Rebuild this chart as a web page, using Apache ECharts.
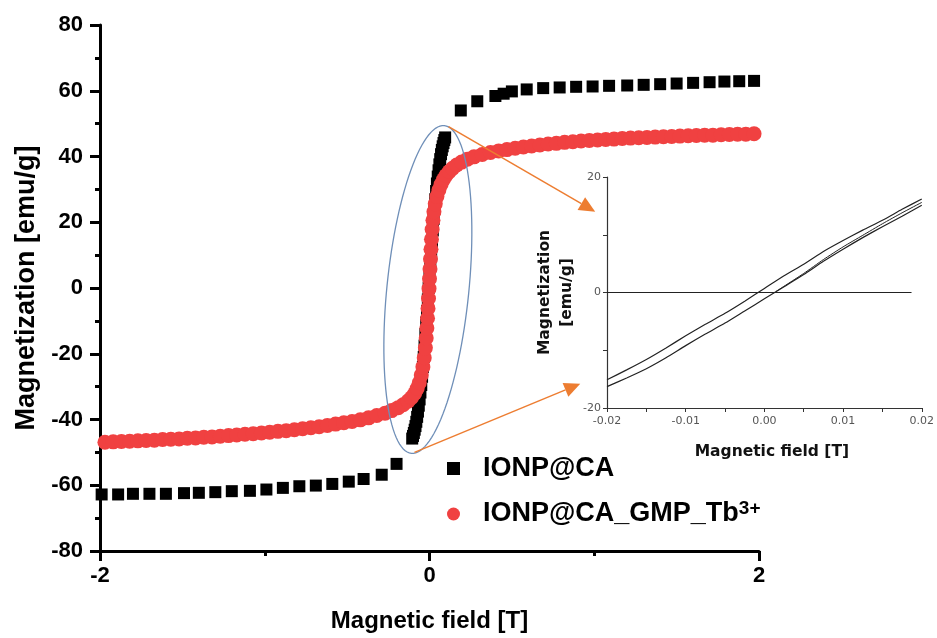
<!DOCTYPE html>
<html><head><meta charset="utf-8">
<script src="https://cdn.jsdelivr.net/npm/echarts@6/dist/echarts.min.js"></script>
<style>html,body{margin:0;padding:0;background:#fff}#c{width:937px;height:638px}</style>
</head><body><div id="c"></div><script>
// ---- data: [field (T), magnetization (emu/g)] ----
const seriesNames = ['IONP@CA', 'IONP@CA_GMP_Tb3+'];

const ionpCA = [
  [-1.99,-62.8],[-1.89,-62.8],[-1.80,-62.6],[-1.70,-62.6],[-1.60,-62.6],[-1.49,-62.4],[-1.40,-62.3],[-1.30,-62.1],
  [-1.20,-61.8],[-1.09,-61.7],[-0.99,-61.3],[-0.89,-60.8],[-0.79,-60.3],[-0.69,-60.1],[-0.59,-59.6],[-0.49,-58.9],
  [-0.40,-58.1],[-0.29,-56.8],[-0.20,-53.5],
  [-0.105,-45.8],[-0.100,-45.0],[-0.095,-44.1],[-0.090,-43.1],[-0.085,-42.0],[-0.080,-40.7],[-0.075,-39.2],[-0.070,-37.6],
  [-0.065,-35.8],[-0.060,-33.9],[-0.055,-31.8],[-0.050,-29.5],[-0.045,-27.0],[-0.040,-24.0],[-0.035,-21.0],[-0.030,-17.5],
  [-0.025,-14.0],[-0.020,-10.5],[-0.015,-7.0],[-0.010,-3.5],[-0.005,0.0],[0.000,3.5],[0.005,7.0],[0.010,10.5],
  [0.015,14.0],[0.020,17.5],[0.025,21.0],[0.030,24.0],[0.035,27.0],[0.040,29.5],[0.045,31.8],[0.050,33.9],
  [0.055,35.8],[0.060,37.6],[0.065,39.2],[0.070,40.7],[0.075,42.0],[0.080,43.1],[0.085,44.1],[0.090,45.0],[0.095,45.8],
  [0.19,54.0],[0.29,56.8],[0.40,58.4],[0.45,59.1],[0.50,59.8],[0.59,60.4],[0.69,60.8],[0.79,61.0],[0.89,61.2],
  [0.99,61.3],[1.09,61.5],[1.20,61.6],[1.30,61.8],[1.40,62.0],[1.50,62.2],[1.60,62.4],[1.70,62.6],[1.79,62.8],
  [1.88,62.9],[1.97,63.0]
];

const ionpTb = [
  [-1.97,-46.9],[-1.92,-46.8],[-1.87,-46.7],[-1.82,-46.6],[-1.77,-46.5],[-1.72,-46.4],[-1.67,-46.3],[-1.62,-46.1],
  [-1.57,-46.0],[-1.52,-45.9],[-1.47,-45.7],[-1.42,-45.6],[-1.37,-45.4],[-1.32,-45.3],[-1.27,-45.1],[-1.22,-44.9],
  [-1.17,-44.7],[-1.12,-44.5],[-1.07,-44.3],[-1.02,-44.1],[-0.97,-43.9],[-0.92,-43.6],[-0.87,-43.4],[-0.82,-43.1],
  [-0.77,-42.8],[-0.72,-42.5],[-0.67,-42.2],[-0.62,-41.8],[-0.57,-41.4],[-0.52,-41.0],[-0.47,-40.6],[-0.42,-40.1],
  [-0.37,-39.5],[-0.32,-38.8],[-0.27,-38.1],[-0.23,-37.3],[-0.19,-36.4],[-0.16,-35.5],[-0.13,-34.4],[-0.11,-33.4],
  [-0.09,-32.1],[-0.075,-30.6],[-0.062,-28.8],[-0.050,-26.5],[-0.040,-24.0],[-0.032,-21.2],[-0.025,-18.2],[-0.020,-15.2],
  [-0.016,-12.2],[-0.012,-9.2],[-0.009,-6.2],[-0.006,-3.2],[-0.003,-0.2],[0.000,2.8],[0.003,5.8],[0.006,8.8],
  [0.009,11.8],[0.012,14.8],[0.016,17.8],[0.021,20.6],[0.027,23.2],[0.035,25.6],[0.045,27.8],[0.057,29.8],
  [0.070,31.5],[0.085,33.0],[0.100,34.2],[0.120,35.4],[0.140,36.4],[0.165,37.4],[0.195,38.3],[0.23,39.2],
  [0.27,39.9],[0.32,40.6],[0.37,41.2],[0.42,41.7],[0.47,42.1],[0.52,42.5],[0.57,42.9],[0.62,43.2],
  [0.67,43.5],[0.72,43.8],[0.77,44.0],[0.82,44.3],[0.87,44.5],[0.92,44.7],[0.97,44.9],[1.02,45.0],
  [1.07,45.2],[1.12,45.3],[1.17,45.5],[1.22,45.6],[1.27,45.7],[1.32,45.8],[1.37,45.9],[1.42,46.0],
  [1.47,46.1],[1.52,46.2],[1.57,46.3],[1.62,46.4],[1.67,46.5],[1.72,46.5],[1.77,46.6],[1.82,46.7],
  [1.87,46.8],[1.92,46.8],[1.97,46.9]
];

// inset (zoom of the low-field loop)
const insetUpper = [
  [-0.020,-15.1],[-0.0175,-13.4],[-0.015,-11.6],[-0.0125,-9.6],[-0.010,-7.5],[-0.0075,-5.5],[-0.005,-3.6],[-0.0025,-1.5],
  [0.000,0.7],[0.0025,2.9],[0.005,4.9],[0.0075,7.1],[0.010,9.0],[0.0125,10.8],[0.015,12.5],[0.0175,14.4],[0.020,16.2]
];
const insetLower = [
  [-0.020,-16.3],[-0.0175,-14.8],[-0.015,-13.2],[-0.0125,-11.3],[-0.010,-9.2],[-0.0075,-7.2],[-0.005,-5.3],[-0.0025,-3.2],
  [0.000,-1.1],[0.0025,1.0],[0.005,3.1],[0.0075,5.4],[0.010,7.5],[0.0125,9.5],[0.015,11.4],[0.0175,13.2],[0.020,15.1]
];
const insetInitial = [
  [0.0015,0.2],[0.005,3.3],[0.0075,5.7],[0.010,7.9],[0.0125,9.9],[0.015,11.9],[0.0175,13.8],[0.020,15.6]
];
const insetZero = [[-0.020,0],[0.0187,0]];

// annotation anchors (data coords): ellipse ends on main plot, arrow start (main) -> arrow tip (inset)
const ellipseTop = [0.09, 49.4], ellipseBottom = [-0.11, -50.3];
const arrowStarts = [[0.1155, 49.1], [-0.091, -50.0]];
const arrowTips = [[-0.0215, 14.0], [-0.0234, -15.8]];

const FONT = '"Liberation Sans", Arial, sans-serif';
const INSET_FONT = '"DejaVu Sans", sans-serif';

const chart = echarts.init(document.getElementById('c'), null, {renderer: 'canvas'});

const mainAxisCommon = {
  axisLine: {onZero: false, lineStyle: {color: '#000', width: 3}},
  axisTick: {length: 10, lineStyle: {color: '#000', width: 3}},
  minorTick: {show: true, splitNumber: 2, length: 5, lineStyle: {color: '#000', width: 3}},
  splitLine: {show: false},
  nameLocation: 'middle'
};
const insetAxisCommon = {
  axisLine: {onZero: false, lineStyle: {color: '#333', width: 1.2}},
  axisTick: {length: 4, lineStyle: {color: '#333', width: 1}},
  splitLine: {show: false},
  nameLocation: 'middle',
  nameMoveOverlap: false
};

chart.setOption({
  animation: false,
  backgroundColor: '#fff',
  grid: [
    {left: 100, right: 178, top: 25, bottom: 85},
    {left: 607, right: 15, top: 177, bottom: 230}
  ],
  xAxis: [
    Object.assign({}, mainAxisCommon, {
      type: 'value', gridIndex: 0, min: -2, max: 2, interval: 2,
      axisLabel: {fontFamily: FONT, fontSize: 22, fontWeight: 'bold', color: '#000', margin: 14},
      name: 'Magnetic field [T]', nameGap: 58,
      nameTextStyle: {fontFamily: FONT, fontSize: 24, fontWeight: 'bold', color: '#000'}
    }),
    Object.assign({}, insetAxisCommon, {
      type: 'value', gridIndex: 1, min: -0.02, max: 0.02, interval: 0.005,
      axisLabel: {fontFamily: INSET_FONT, fontSize: 11, color: '#555', margin: 8,
        formatter: v => { const k = Math.round(v * 1000); return k % 10 === 0 ? (k / 1000).toFixed(2) : ''; }},
      name: 'Magnetic field [T]', nameGap: 36,
      nameTextStyle: {fontFamily: INSET_FONT, fontSize: 15.5, fontWeight: 'bold', color: '#111', padding: [0, 0, 0, 15]}
    })
  ],
  yAxis: [
    Object.assign({}, mainAxisCommon, {
      type: 'value', gridIndex: 0, min: -80, max: 80, interval: 20,
      axisLabel: {fontFamily: FONT, fontSize: 22, fontWeight: 'bold', color: '#000', margin: 17},
      name: 'Magnetization [emu/g]', nameGap: 56, nameRotate: 90,
      nameTextStyle: {fontFamily: FONT, fontSize: 27, fontWeight: 'bold', color: '#000'}
    }),
    Object.assign({}, insetAxisCommon, {
      type: 'value', gridIndex: 1, min: -20, max: 20, interval: 10,
      axisLabel: {fontFamily: INSET_FONT, fontSize: 11, color: '#555', margin: 6,
        formatter: v => { const k = Math.round(v); return k % 20 === 0 ? String(k) : ''; }},
      name: 'Magnetization\n[emu/g]', nameGap: 29, nameRotate: 90,
      nameTextStyle: {fontFamily: INSET_FONT, fontSize: 15.5, fontWeight: 'bold', color: '#111', lineHeight: 22}
    })
  ],
  legend: {
    data: seriesNames,
    orient: 'vertical', left: 442, top: 450,
    itemWidth: 13, itemHeight: 13, itemGap: 17,
    formatter: name => name === seriesNames[1] ? '{m|IONP@CA_GMP_Tb}{s|3+}' : '{m|' + name + '}',
    textStyle: {
      padding: [0, 0, 0, 18],
      rich: {
        m: {fontFamily: FONT, fontSize: 27, fontWeight: 'bold', color: '#000', lineHeight: 30},
        s: {fontFamily: FONT, fontSize: 19, fontWeight: 'bold', color: '#000', verticalAlign: 'top', lineHeight: 10}
      }
    }
  },
  series: [
    {name: seriesNames[0], type: 'scatter', xAxisIndex: 0, yAxisIndex: 0, data: ionpCA,
      symbol: 'rect', symbolSize: 12, itemStyle: {color: '#000', opacity: 1}, silent: true},
    {name: seriesNames[1], type: 'scatter', xAxisIndex: 0, yAxisIndex: 0, data: ionpTb,
      symbol: 'circle', symbolSize: 15, itemStyle: {color: '#f04141', opacity: 1}, silent: true},
    {type: 'line', xAxisIndex: 1, yAxisIndex: 1, data: insetZero, showSymbol: false, silent: true,
      lineStyle: {color: '#222', width: 1.2}},
    {type: 'line', xAxisIndex: 1, yAxisIndex: 1, data: insetUpper, showSymbol: false, silent: true, smooth: 0.2,
      lineStyle: {color: '#222', width: 1.2}},
    {type: 'line', xAxisIndex: 1, yAxisIndex: 1, data: insetLower, showSymbol: false, silent: true, smooth: 0.2,
      lineStyle: {color: '#222', width: 1.2}},
    {type: 'line', xAxisIndex: 1, yAxisIndex: 1, data: insetInitial, showSymbol: false, silent: true, smooth: 0.2,
      lineStyle: {color: '#222', width: 1}}
  ]
});

// ---- annotations: ellipse around the low-field region and arrows to the inset ----
const toMain = pt => chart.convertToPixel({xAxisIndex: 0, yAxisIndex: 0}, pt);
const toInset = pt => chart.convertToPixel({xAxisIndex: 1, yAxisIndex: 1}, pt);

const T = toMain(ellipseTop), B = toMain(ellipseBottom);
const cx = (T[0] + B[0]) / 2, cy = (T[1] + B[1]) / 2;
const len = Math.hypot(T[0] - B[0], T[1] - B[1]);
const ux = (T[0] - B[0]) / len, uy = (T[1] - B[1]) / len;
const vx = -uy, vy = ux;
const a = len / 2, b = 41;
const ellPts = [];
for (let i = 0; i < 120; i++) {
  const t = i / 120 * Math.PI * 2;
  ellPts.push([cx + a * Math.cos(t) * ux + b * Math.sin(t) * vx, cy + a * Math.cos(t) * uy + b * Math.sin(t) * vy]);
}
const graphics = [{
  type: 'polygon', z: 100, silent: true,
  shape: {points: ellPts},
  style: {fill: 'none', stroke: '#6f8fb8', lineWidth: 1.3}
}];
arrowStarts.forEach((s, i) => {
  const S = toMain(s), E = toInset(arrowTips[i]);
  const L = Math.hypot(E[0] - S[0], E[1] - S[1]);
  const dx = (E[0] - S[0]) / L, dy = (E[1] - S[1]) / L;
  const hl = 16, hw = 7.5;
  const bx = E[0] - dx * hl, by = E[1] - dy * hl;
  graphics.push({type: 'line', z: 100, silent: true,
    shape: {x1: S[0], y1: S[1], x2: bx, y2: by},
    style: {stroke: '#ed7d31', lineWidth: 1.5}});
  graphics.push({type: 'polygon', z: 100, silent: true,
    shape: {points: [[E[0], E[1]], [bx - dy * hw, by + dx * hw], [bx + dy * hw, by - dx * hw]]},
    style: {fill: '#ed7d31'}});
});
chart.setOption({graphic: graphics});
</script></body></html>
